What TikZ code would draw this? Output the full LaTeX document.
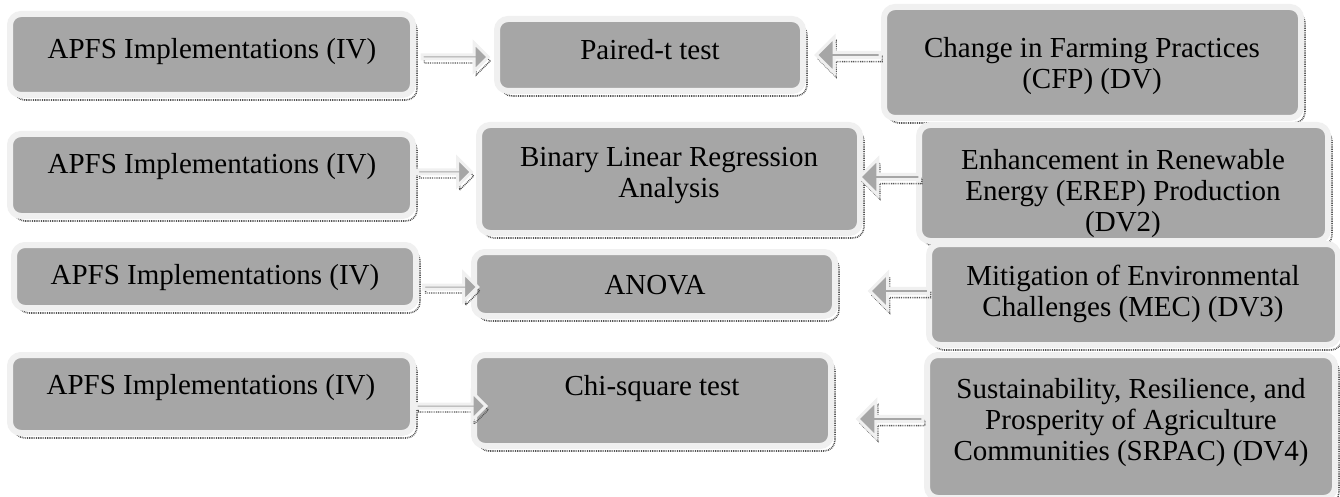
\documentclass[tikz,border=0pt]{standalone}
\usepackage{fontspec}
\setmainfont{Liberation Serif}
\usetikzlibrary{shapes.arrows,calc}
\definecolor{boxgray}{HTML}{A6A6A6}
\definecolor{boxrim}{HTML}{F0F0F0}
\definecolor{shade}{HTML}{555555}
\tikzset{
  box/.style={rectangle, rounded corners=11pt, fill=boxgray, draw=boxrim, line width=6pt, inner sep=0pt,
    preaction={draw=shade, line width=1.6pt, dash pattern=on 0.9pt off 0.9pt,
      transform canvas={xshift=4pt,yshift=-5pt}}},
  txt/.style={font=\fontsize{29}{31}\selectfont, align=center, text=black, inner sep=0pt},
  barrow/.style={single arrow, fill=boxgray, draw=boxrim, line width=3pt, minimum width=28pt,
    single arrow head extend=9pt, single arrow head indent=0pt, inner sep=0pt,
    preaction={draw=shade, line width=1.4pt, dash pattern=on 0.9pt off 0.9pt,
      transform canvas={xshift=2pt,yshift=-4pt}}},
  leftarrow/.style={barrow, minimum width=36pt, shape border rotate=180}
}
\begin{document}
\begin{tikzpicture}[x=1pt,y=-1pt]
\useasboundingbox (0,0) rectangle (1340,497);
% row 1
\node[box, minimum width=403pt, minimum height=81pt] (l1) at (211.5,54.5) {};
\node[box, minimum width=306pt, minimum height=72pt] (p1) at (650,55) {};
\node[box, minimum width=417pt, minimum height=111pt] (r1) at (1092.5,62.5) {};
% row 2
\node[box, minimum width=403pt, minimum height=82pt] (l2) at (211.5,175) {};
\node[box, minimum width=381pt, minimum height=108pt] (p2) at (669.5,179) {};
\node[box, minimum width=409pt, minimum height=116pt] (r2) at (1123.5,183) {};
% row 3
\node[box, minimum width=402pt, minimum height=63pt] (l3) at (215,276.5) {};
\node[box, minimum width=361pt, minimum height=64pt] (p3) at (654.5,284) {};
\node[box, minimum width=409pt, minimum height=101pt] (r3) at (1133.5,294.5) {};
% row 4
\node[box, minimum width=403pt, minimum height=78pt] (l4) at (211.5,394) {};
\node[box, minimum width=357pt, minimum height=91pt] (p4) at (652.5,400.5) {};
\node[box, minimum width=408pt, minimum height=143pt] (r4) at (1131,426.5) {};

% texts
\node[txt] (l1t) at (212,52) {APFS Implementations (IV)};
\node[txt] (p1t) at (650,50) {Paired-t test};
\node[txt] (r1t) at (1092,66) {Change in Farming Practices\\(CFP) (DV)};
\node[txt] (l2t) at (212,167) {APFS Implementations (IV)};
\node[txt] (p2t) at (669,176) {Binary Linear Regression\\Analysis};
\node[txt] (r2t) at (1123,194) {Enhancement in Renewable\\Energy (EREP) Production\\(DV2)};
\node[txt] (l3t) at (215,278) {APFS Implementations (IV)};
\node[txt] (p3t) at (655,285) {ANOVA};
\node[txt] (r3t) at (1133,294) {Mitigation of Environmental\\Challenges (MEC) (DV3)};
\node[txt] (l4t) at (211,388) {APFS Implementations (IV)};
\node[txt] (p4t) at (652,389) {Chi-square test};
\node[txt] (r4t) at (1131,423) {Sustainability, Resilience, and\\Prosperity of Agriculture\\Communities (SRPAC) (DV4)};

% arrow rows
\coordinate (ra1) at (0,57);
\coordinate (ra2) at (0,172);
\coordinate (ra3) at (0,287);
\coordinate (ra4) at (0,406);
\coordinate (la1) at (0,55);
\coordinate (la2) at (0,177);
\coordinate (la3) at (0,291);
\coordinate (la4) at (0,419);

\path (l1.east |- ra1) -- (p1.west |- ra1) node[barrow, pos=0.49, minimum height=66pt] {};
\path (l2.east |- ra2) -- (p2.west |- ra2) node[barrow, pos=0.46, minimum height=54pt] {};
\path (l3.east |- ra3) -- (p3.west |- ra3) node[barrow, pos=0.59, minimum height=54pt] {};
\path (l4.east |- ra4) -- (p4.west |- ra4) node[barrow, pos=0.62, minimum height=70pt] {};

\path (r1.west |- la1) -- (p1.east |- la1) node[leftarrow, pos=0.42, minimum height=64pt] {};
\path (r2.west |- la2) -- (p2.east |- la2) node[leftarrow, pos=0.47, minimum height=60pt] {};
\path (r3.west |- la3) -- (p3.east |- la3) node[leftarrow, pos=0.29, minimum height=59pt] {};
\path (r4.west |- la4) -- (p4.east |- la4) node[leftarrow, pos=0.36, minimum height=65pt] {};
\end{tikzpicture}
\end{document}
